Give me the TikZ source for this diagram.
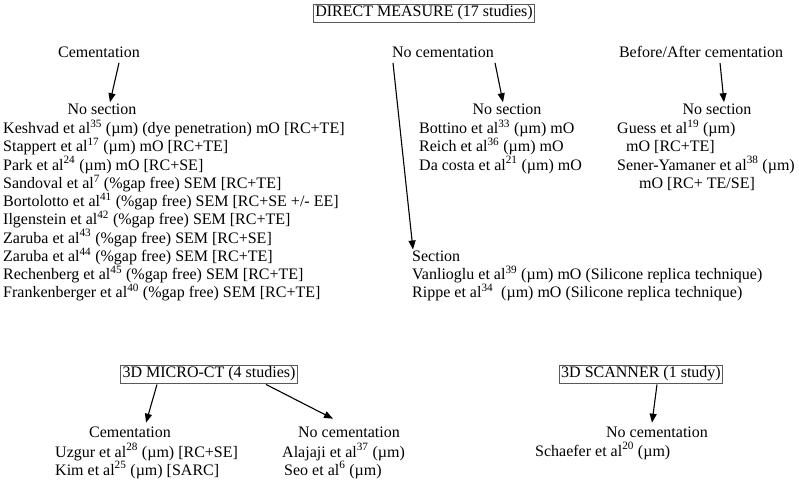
\documentclass[tikz,border=0pt]{standalone}
\usepackage{fontspec}
\setmainfont{Liberation Serif}
\usetikzlibrary{arrows.meta}
\newcommand{\supr}[1]{\textsuperscript{#1}}
\begin{document}
\begin{tikzpicture}[x=1pt,y=-1pt,
  every node/.style={inner sep=0pt,font=\fontsize{16}{18}\selectfont},
  hdr/.style={anchor=base},
  item/.style={anchor=base west},
  boxed/.style={draw=black!65,line width=0.8pt,inner xsep=1.8pt,inner ysep=1.8pt},
  arr/.style={line width=1.1pt,-{Triangle[length=9pt,width=7pt]}}]
\useasboundingbox (0,0) rectangle (799,481);
% top box
\node[boxed] (dm) at (424,13) {DIRECT MEASURE (17 studies)};
% headers
\node[hdr] (cem) at (99,57.5) {Cementation};
\node[hdr] (noc) at (443,57.5) {No cementation};
\node[hdr] (ba) at (701,57.5) {Before/After cementation};
\node[hdr] (nsA) at (102,115) {No section};
\node[hdr] (nsB) at (507,115) {No section};
\node[hdr] (nsC) at (717,115) {No section};
% left list
\node[item] (k1) at (3,133.5) {Keshvad et al\supr{35} (µm) (dye penetration) mO [RC+TE]};
\node[item] (k2) at (3,151.8) {Stappert et al\supr{17} (µm) mO [RC+TE]};
\node[item] (k3) at (3,170) {Park et al\supr{24} (µm) mO [RC+SE]};
\node[item] (k4) at (3,188.3) {Sandoval et al\supr{7} (\%gap free) SEM [RC+TE]};
\node[item] (k5) at (3,206.5) {Bortolotto et al\supr{41} (\%gap free) SEM [RC+SE +/- EE]};
\node[item] (k6) at (3,224.8) {Ilgenstein et al\supr{42} (\%gap free) SEM [RC+TE]};
\node[item] (k7) at (3,243) {Zaruba et al\supr{43} (\%gap free) SEM [RC+SE]};
\node[item] (k8) at (3,261.3) {Zaruba et al\supr{44} (\%gap free) SEM [RC+TE]};
\node[item] (k9) at (3,279.5) {Rechenberg et al\supr{45} (\%gap free) SEM [RC+TE]};
\node[item] (k10) at (3,297.8) {Frankenberger et al\supr{40} (\%gap free) SEM [RC+TE]};
% middle list
\node[item] (b1) at (419,133.5) {Bottino et al\supr{33} (µm) mO};
\node[item] (b2) at (419,151.8) {Reich et al\supr{36} (µm) mO};
\node[item] (b3) at (419,170) {Da costa et al\supr{21} (µm) mO};
% right list
\node[item] (g1) at (617,133.5) {Guess et al\supr{19} (µm)};
\node[item] (g2) at (626,151.8) {mO [RC+TE]};
\node[item] (g3) at (617,170) {Sener-Yamaner et al\supr{38} (µm)};
\node[item] (g4) at (639,188.3) {mO [RC+ TE/SE]};
% section
\node[item] (sec) at (412,261.3) {Section};
\node[item] (s1) at (412,279.5) {Vanlioglu et al\supr{39} (µm) mO (Silicone replica technique)};
\node[item] (s2) at (412,297.8) {Rippe et al\supr{34}\ \ (µm) mO (Silicone replica technique)};
% bottom boxes
\node[boxed] (mct) at (209,374) {3D MICRO-CT (4 studies)};
\node[boxed] (scan) at (641,374) {3D SCANNER (1 study)};
\node[hdr] (cemB) at (130,437.5) {Cementation};
\node[hdr] (nocB) at (349,437.5) {No cementation};
\node[hdr] (nocC) at (657,437.5) {No cementation};
\node[item] (u1) at (55,457) {Uzgur et al\supr{28} (µm) [RC+SE]};
\node[item] (u2) at (55,475) {Kim et al\supr{25} (µm) [SARC]};
\node[item] (a1) at (282,457) {Alajaji et al\supr{37} (µm)};
\node[item] (a2) at (284,475) {Seo et al\supr{6} (µm)};
\node[item] (sc1) at (535,456) {Schaefer et al\supr{20} (µm)};
% arrows
\draw[arr] ([shift={(20,5)}]cem.south) -- ([shift={(8,-2)}]nsA.north);
\draw[arr] ([shift={(-50,5)}]noc.south) -- ([shift={(1,-1)}]sec.north west);
\draw[arr] ([shift={(52,5)}]noc.south) -- ([shift={(-4,-2)}]nsB.north);
\draw[arr] ([shift={(19,5)}]ba.south) -- ([shift={(7,-2)}]nsC.north);
\draw[arr] ([xshift=-52pt,yshift=-1pt]mct.south) -- ([shift={(16,-4)}]cemB.north);
\draw[arr] ([xshift=57pt,yshift=-1pt]mct.south) -- ([shift={(-16,-8)}]nocB.north);
\draw[arr] ([xshift=16pt,yshift=-1pt]scan.south) -- ([shift={(-5,-4)}]nocC.north);
\end{tikzpicture}
\end{document}
